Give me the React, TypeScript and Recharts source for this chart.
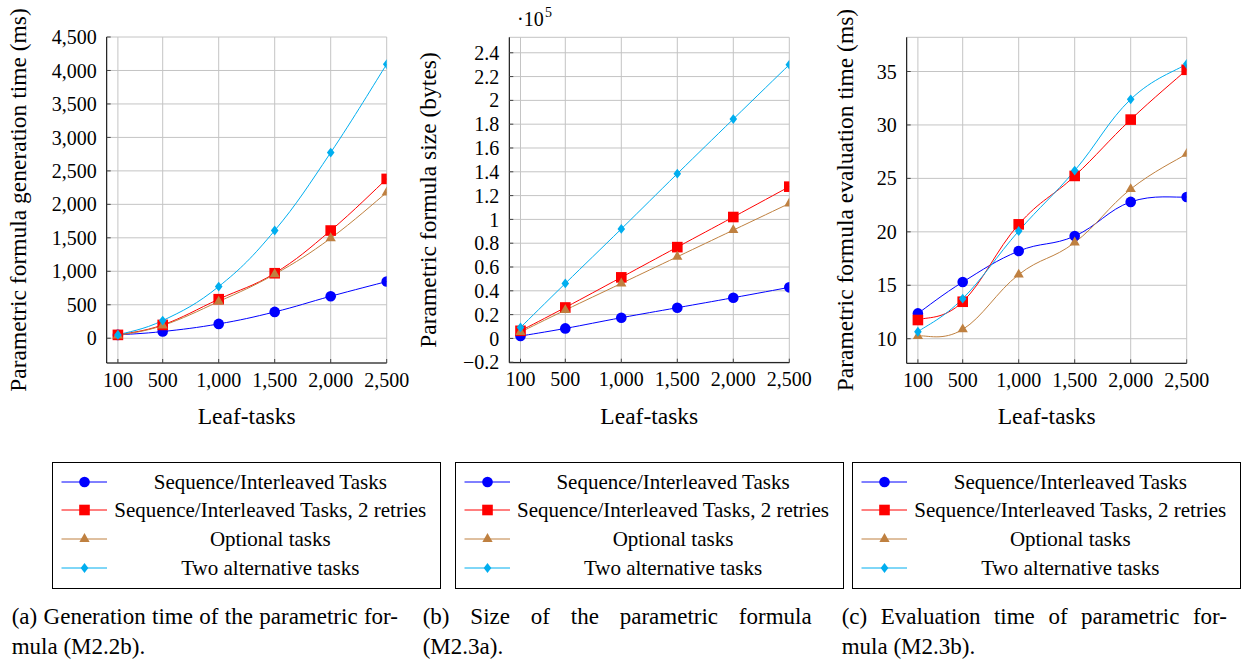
import React from 'react';
import { LineChart, Line, XAxis, YAxis, CartesianGrid } from 'recharts';

// ---------- data ----------
const leafTasks = [100, 500, 1000, 1500, 2000, 2500];
const xTicks = [100, 500, 1000, 1500, 2000, 2500];

const seriesNames = [
  'Sequence/Interleaved Tasks',
  'Sequence/Interleaved Tasks, 2 retries',
  'Optional tasks',
  'Two alternative tasks',
];

// (a) generation time (ms)
const genSeq = [50, 100, 214, 393, 627, 847];
const genRetry = [50, 199, 583, 971, 1609, 2380];
const genOptional = [40, 190, 548, 956, 1494, 2177];
const genAlt = [50, 264, 772, 1609, 2774, 4094];
const genTicks = [0, 500, 1000, 1500, 2000, 2500, 3000, 3500, 4000, 4500];

// (b) formula size (x 10^5 bytes)
const sizeSeq = [0.02, 0.084, 0.174, 0.258, 0.342, 0.429];
const sizeRetry = [0.064, 0.26, 0.513, 0.767, 1.02, 1.275];
const sizeOptional = [0.053, 0.238, 0.462, 0.686, 0.91, 1.134];
const sizeAlt = [0.092, 0.462, 0.92, 1.384, 1.843, 2.3];
const sizeTicks = [-0.2, 0, 0.2, 0.4, 0.6, 0.8, 1, 1.2, 1.4, 1.6, 1.8, 2, 2.2, 2.4];

// (c) evaluation time (ms)
const evalSeq = [12.37, 15.3, 18.2, 19.6, 22.8, 23.26];
const evalRetry = [11.75, 13.46, 20.7, 25.23, 30.5, 35.16];
const evalOptional = [10.25, 10.87, 16.0, 19.0, 24.0, 27.3];
const evalAlt = [10.65, 13.75, 20.08, 25.73, 32.4, 35.7];
const evalTicks = [10, 15, 20, 25, 30, 35];

// ---------- styles ----------
const FONT =
  "'Liberation Serif', 'Tinos', 'Noto Serif', 'DejaVu Serif', 'Nimbus Roman', 'Nimbus Roman No9 L', 'FreeSerif', 'Times New Roman', Times, 'Noto Serif CJK SC', serif";
const COLORS = ['#0000ff', '#ff0000', '#bf8040', '#00aeef'];
const SHAPES = ['circle', 'square', 'triangle', 'diamond'];
const KEYS = ['seq', 'retry', 'opt', 'alt'];

const buildData = (a: number[], b: number[], c: number[], d: number[]) =>
  leafTasks.map((x, i) => ({ x, seq: a[i], retry: b[i], opt: c[i], alt: d[i] }));

const genData = buildData(genSeq, genRetry, genOptional, genAlt);
const sizeData = buildData(sizeSeq, sizeRetry, sizeOptional, sizeAlt);
const evalData = buildData(evalSeq, evalRetry, evalOptional, evalAlt);

// smooth curve like TikZ "smooth"
function smoothCurve(k: number) {
  return (context: any) => {
    let pts: [number, number][] = [];
    return {
      areaStart() {},
      areaEnd() {},
      lineStart() {
        pts = [];
      },
      point(x: number, y: number) {
        pts.push([+x, +y]);
      },
      lineEnd() {
        const n = pts.length;
        if (!n) return;
        context.moveTo(pts[0][0], pts[0][1]);
        for (let i = 0; i < n - 1; i++) {
          const p0 = pts[Math.max(i - 1, 0)];
          const p1 = pts[i];
          const p2 = pts[i + 1];
          const p3 = pts[Math.min(i + 2, n - 1)];
          context.bezierCurveTo(
            p1[0] + k * (p2[0] - p0[0]),
            p1[1] + k * (p2[1] - p0[1]),
            p2[0] - k * (p3[0] - p1[0]),
            p2[1] - k * (p3[1] - p1[1]),
            p2[0],
            p2[1]
          );
        }
      },
    };
  };
}
const SMOOTH = smoothCurve(0.2);

function Marker({ shape, cx, cy, color }: { shape: string; cx: number; cy: number; color: string }) {
  if (shape === 'circle') return <circle cx={cx} cy={cy} r={5.3} fill={color} />;
  if (shape === 'square') return <rect x={cx - 5.3} y={cy - 5.3} width={10.6} height={10.6} fill={color} />;
  if (shape === 'triangle') {
    const r = 5.9;
    return (
      <polygon
        points={`${cx},${cy - r} ${cx - 0.866 * r},${cy + 0.5 * r} ${cx + 0.866 * r},${cy + 0.5 * r}`}
        fill={color}
      />
    );
  }
  return (
    <polygon points={`${cx},${cy - 4.9} ${cx + 3.8},${cy} ${cx},${cy + 4.9} ${cx - 3.8},${cy}`} fill={color} />
  );
}

const makeDot = (shape: string, color: string) => (props: any) => {
  const { cx, cy, index } = props;
  if (cx == null || cy == null) return <g key={`e${index}`} />;
  return (
    <g key={`m${index}`}>
      <Marker shape={shape} cx={cx} cy={cy} color={color} />
    </g>
  );
};

function YTitle(props: any) {
  const { bx, cy, text } = props;
  return (
    <text
      x={bx}
      y={cy}
      transform={`rotate(-90 ${bx} ${cy})`}
      textAnchor="middle"
      style={{ fontFamily: FONT }}
      fontSize={23.5}
      fill="#000"
    >
      {text}
    </text>
  );
}

function XTitle(props: any) {
  const { cx, by, text } = props;
  return (
    <text x={cx} y={by} textAnchor="middle" style={{ fontFamily: FONT }} fontSize={23.5} fill="#000">
      {text}
    </text>
  );
}

const commaFmt = (v: number) => v.toLocaleString('en-US');
const sizeFmt = (v: number) => (v === 0 ? '0' : (v < 0 ? '\u2212' : '') + String(Math.abs(v)));
const emptyFmt = () => '';

type PanelProps = {
  left: number;
  width: number;
  margin: { top: number; right: number; bottom: number; left: number };
  data: any[];
  domain: [number, number];
  ticks: number[];
  fmt: (v: number) => string;
  yTitle: string;
  yTitleX: number;
};

function Panel({ left, width, margin, data, domain, ticks, fmt, yTitle, yTitleX }: PanelProps) {
  const plotLeft = margin.left + 60;
  const plotRight = width - margin.right;
  const tickStyle = { fontSize: 20, fill: '#000', fontFamily: FONT };
  return (
    <div style={{ position: 'absolute', left, top: 0, fontFamily: FONT }}>
      <LineChart width={width} height={440} data={data} margin={margin} style={{ fontFamily: FONT }}>
        <CartesianGrid stroke="#c4c4c4" strokeWidth={1} />
        <XAxis
          dataKey="x"
          type="number"
          domain={[0, 2500]}
          allowDataOverflow
          ticks={xTicks}
          interval={0}
          tickFormatter={commaFmt}
          tick={tickStyle}
          height={60}
          tickSize={-4}
          tickMargin={13.3}
          axisLine={{ stroke: '#000', strokeWidth: 1 }}
          tickLine={{ stroke: '#444', strokeWidth: 1 }}
          label={<XTitle cx={(plotLeft + plotRight) / 2} by={424} text="Leaf-tasks" />}
        />
        <XAxis
          xAxisId="top"
          dataKey="x"
          orientation="top"
          type="number"
          domain={[0, 2500]}
          allowDataOverflow
          ticks={xTicks}
          interval={0}
          tickFormatter={emptyFmt}
          height={0}
          tickSize={-4}
          axisLine={{ stroke: '#000', strokeWidth: 1 }}
          tickLine={{ stroke: '#444', strokeWidth: 1 }}
        />
        <YAxis
          type="number"
          domain={domain}
          allowDataOverflow
          ticks={ticks}
          interval={0}
          tickFormatter={fmt}
          tick={tickStyle}
          width={60}
          tickSize={-4}
          tickMargin={14}
          axisLine={{ stroke: '#000', strokeWidth: 1 }}
          tickLine={{ stroke: '#444', strokeWidth: 1 }}
          label={<YTitle bx={yTitleX} cy={200} text={yTitle} />}
        />
        <YAxis
          yAxisId="right"
          orientation="right"
          type="number"
          domain={domain}
          allowDataOverflow
          ticks={ticks}
          interval={0}
          tickFormatter={emptyFmt}
          width={0}
          tickSize={-4}
          axisLine={{ stroke: '#000', strokeWidth: 1 }}
          tickLine={{ stroke: '#444', strokeWidth: 1 }}
        />
        {KEYS.map((k, i) => (
          <Line
            key={k}
            dataKey={k}
            type={SMOOTH as any}
            stroke={COLORS[i]}
            strokeWidth={1}
            dot={makeDot(SHAPES[i], COLORS[i])}
            activeDot={false}
            isAnimationActive={false}
          />
        ))}
      </LineChart>
    </div>
  );
}

function LegendBox({ left }: { left: number }) {
  return (
    <div
      style={{
        position: 'absolute',
        left,
        top: 461.5,
        width: 387,
        height: 125,
        border: '1px solid #000',
        fontFamily: FONT,
        fontSize: 21,
        color: '#000',
      }}
    >
      {seriesNames.map((name, i) => {
        const cy = 19 + i * 28.7;
        return (
          <div key={name} style={{ position: 'absolute', left: 0, top: cy - 14, width: 387, height: 28 }}>
            <svg width={56} height={28} style={{ position: 'absolute', left: 7, top: 0 }}>
              <line x1={1.5} y1={14} x2={47} y2={14} stroke={COLORS[i]} strokeWidth={1} />
              <Marker shape={SHAPES[i]} cx={24.5} cy={14} color={COLORS[i]} />
            </svg>
            <div
              style={{
                position: 'absolute',
                left: 56,
                width: 322,
                top: 0,
                height: 28,
                lineHeight: '28px',
                textAlign: 'center',
                whiteSpace: 'nowrap',
              }}
            >
              {name}
            </div>
          </div>
        );
      })}
    </div>
  );
}

function Caption({ left, width, line1, line2 }: { left: number; width: number; line1: string; line2: string }) {
  const base: React.CSSProperties = {
    fontFamily: FONT,
    fontSize: 23,
    lineHeight: '30px',
    color: '#000',
    whiteSpace: 'nowrap',
  };
  return (
    <div style={{ position: 'absolute', left, top: 602, width }}>
      <div style={{ ...base, textAlign: 'justify', textAlignLast: 'justify' } as React.CSSProperties}>{line1}</div>
      <div style={base}>{line2}</div>
    </div>
  );
}

export default function App() {
  return (
    <div
      style={{
        position: 'absolute',
        left: 0,
        top: 0,
        width: 1245,
        height: 663,
        background: '#fff',
        overflow: 'hidden',
        fontFamily: FONT,
      }}
    >
      <Panel
        left={0}
        width={420}
        margin={{ top: 37, right: 33.3, bottom: 17, left: 46.7 }}
        data={genData}
        domain={[-370, 4500]}
        ticks={genTicks}
        fmt={commaFmt}
        yTitle="Parametric formula generation time (ms)"
        yTitleX={26}
      />
      <Panel
        left={405}
        width={420}
        margin={{ top: 37.3, right: 35.7, bottom: 17.3, left: 44.3 }}
        data={sizeData}
        domain={[-0.204, 2.53]}
        ticks={sizeTicks}
        fmt={sizeFmt}
        yTitle="Parametric formula size (bytes)"
        yTitleX={31}
      />
      <Panel
        left={805}
        width={430}
        margin={{ top: 37.3, right: 48.3, bottom: 16.7, left: 41.7 }}
        data={evalData}
        domain={[7.7, 38.2]}
        ticks={evalTicks}
        fmt={commaFmt}
        yTitle="Parametric formula evaluation time (ms)"
        yTitleX={48}
      />
      <div style={{ position: 'absolute', left: 517, top: 9, fontSize: 20, lineHeight: '20px', whiteSpace: 'nowrap' }}>
        ·10
      </div>
      <div style={{ position: 'absolute', left: 545, top: 6, fontSize: 14, lineHeight: '14px' }}>5</div>

      <LegendBox left={52.3} />
      <LegendBox left={455} />
      <LegendBox left={852.3} />

      <Caption left={11.7} width={386.3} line1="(a) Generation time of the parametric for-" line2="mula (M2.2b)." />
      <Caption left={422.7} width={389} line1="(b) Size of the parametric formula" line2="(M2.3a)." />
      <Caption left={841.7} width={385.3} line1="(c) Evaluation time of parametric for-" line2="mula (M2.3b)." />
    </div>
  );
}
